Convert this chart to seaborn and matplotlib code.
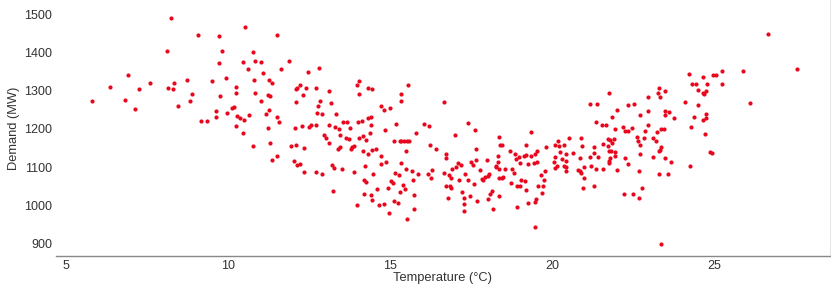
import numpy as np
import pandas as pd
import seaborn as sns
import matplotlib
matplotlib.use('Agg')
import matplotlib.pyplot as plt

# values (temperature in degC, demand in MW)
temp_cool = [5.81, 6.36, 6.92, 6.83, 7.15, 7.26, 7.61, 8.11, 8.26, 8.16, 8.32, 8.33, 8.47, 8.73, 8.84, 8.90, 9.07,
             9.72, 10.52, 11.53, 9.81, 9.74, 10.77, 10.47, 10.85, 11.02, 10.63, 11.08, 9.51, 9.95, 10.24, 10.24,
             10.81, 10.83, 11.27, 11.36, 11.24, 11.30, 9.77, 11.02, 9.62, 9.63, 9.17, 9.37, 9.99, 10.13, 10.18,
             10.28, 10.39, 10.49, 10.64, 10.26, 10.47, 11.17, 11.28, 11.23, 11.52, 11.58, 10.77, 11.31, 11.51,
             11.35, 11.89, 11.63, 12.48, 12.80, 12.09, 12.12, 12.23, 12.41, 12.32, 12.71, 13.11, 12.11, 12.83,
             12.79, 13.17, 12.75, 12.92, 13.35, 12.08, 12.29, 12.50, 12.57, 12.71, 13.13, 13.32, 13.42, 12.96,
             13.02, 13.11, 13.40, 11.94, 12.10, 12.35, 12.03, 12.12, 12.24, 12.35, 12.73, 12.90, 13.22, 13.26,
             13.24]
demand_cool = [1272, 1311, 1341, 1276, 1253, 1304, 1320, 1403, 1490, 1306, 1304, 1320, 1260, 1328, 1273, 1292, 1447,
               1444, 1466, 1447, 1405, 1374, 1401, 1375, 1378, 1375, 1356, 1346, 1326, 1333, 1309, 1295,
               1327, 1294, 1329, 1320, 1290, 1286, 1285, 1274, 1247, 1230, 1222, 1220, 1242, 1254, 1257,
               1235, 1229, 1224, 1237, 1208, 1189, 1239, 1250, 1202, 1231, 1218, 1155, 1162, 1130,
               1118, 1379, 1357, 1348, 1359, 1304, 1308, 1316, 1308, 1289, 1308, 1299, 1270, 1274,
               1260, 1267, 1243, 1238, 1239, 1203, 1208, 1204, 1209, 1211, 1209, 1206, 1200, 1184,
               1176, 1164, 1147, 1155, 1157, 1149, 1115, 1106, 1107, 1088, 1088, 1082, 1106, 1097,
               1038]

temp_mild = [14.06, 13.99, 14.06, 14.33, 14.44, 13.54, 13.68, 13.78, 14.01, 14.13, 14.32, 14.42, 14.41, 14.40,
             14.16, 14.04, 14.27, 13.46, 13.63, 13.73, 15.56, 15.34, 15.34, 14.74, 14.82, 15.01, 15.18, 14.85,
             15.13, 15.30, 15.35, 15.44, 15.52, 15.58, 13.89, 13.84, 13.80, 13.47, 14.18, 14.31, 14.46, 14.56,
             14.73, 15.51, 14.87, 14.74, 15.33, 13.51, 14.23, 13.89, 14.49, 15.15, 15.27, 14.20, 14.27, 15.03,
             15.11, 15.39, 15.47, 14.61, 14.93, 15.31, 14.19, 14.42, 14.46, 15.13, 15.26, 14.81, 14.67, 13.97,
             14.96, 15.53, 15.74, 15.74, 15.71, 15.88, 15.69, 15.51,
             16.67, 16.06, 16.21, 17.42, 17.63, 17.01, 15.81, 16.24, 16.41, 16.73, 16.72, 17.66, 17.65, 17.50,
             17.55, 17.11, 17.19, 17.04, 16.93, 16.30, 17.79, 16.18, 16.27, 16.67, 16.82, 16.87, 17.31, 17.13,
             17.42, 17.60, 17.85, 16.74, 16.86, 16.87, 17.21, 17.27, 17.46, 17.70, 16.80, 17.27, 17.28]
demand_mild = [1326, 1316, 1292, 1308, 1304, 1218, 1217, 1203, 1218, 1222, 1228, 1231, 1209, 1189,
               1182, 1177, 1171, 1184, 1176, 1174, 1315, 1291, 1273, 1259, 1250, 1255, 1212, 1197,
               1168, 1168, 1168, 1167, 1168, 1169, 1156, 1153, 1147, 1153, 1143, 1134, 1145, 1147,
               1129, 1142, 1113, 1107, 1110, 1095, 1102, 1086, 1081, 1084, 1078, 1066, 1062, 1064,
               1059, 1052, 1043, 1043, 1044, 1034, 1029, 1026, 1014, 1011, 1007, 1003, 1000, 1000,
               979, 964, 990, 1026, 1066, 1081, 1090, 1094,
               1270, 1213, 1208, 1216, 1196, 1184, 1188, 1158, 1148, 1135, 1124, 1147, 1118, 1112,
               1106, 1110, 1105, 1101, 1095, 1092, 1091, 1082, 1072, 1085, 1078, 1071, 1081, 1065,
               1066, 1055, 1068, 1050, 1051, 1045, 1035, 1020, 1023, 1011, 1018, 1003, 985]

temp_warm = [18.35, 19.34, 18.41, 18.47, 18.71, 19.21, 19.53, 19.81, 18.32, 18.85, 18.98, 18.89, 19.14, 19.21,
             19.35, 19.49, 19.55, 19.43, 19.26, 19.01, 18.32, 17.99, 18.26, 18.28, 18.35, 18.56, 18.78, 18.84,
             18.07, 18.02, 17.93, 17.87, 18.35, 18.45, 18.48, 19.04, 19.17, 18.73, 18.91, 19.00, 19.65, 19.77,
             19.74, 19.73, 19.58, 19.69, 19.20, 18.14, 18.08, 18.03, 18.35, 19.51, 19.46, 19.26, 18.91, 18.18,
             19.48,
             21.17, 21.38, 22.35, 21.99, 21.86, 21.35, 21.53, 21.66, 21.95, 22.19, 22.26, 22.34, 20.90, 20.53,
             20.20, 20.10, 20.23, 20.37, 20.93, 21.28, 21.56, 21.72, 21.79, 21.90, 21.86, 21.72, 21.77, 21.82,
             21.95, 21.30, 20.26, 20.43, 20.64, 20.08, 20.30, 20.44, 20.86, 21.17, 21.43, 21.79, 21.77, 21.75,
             21.95, 22.24, 22.35, 20.07, 20.16, 20.08, 20.38, 20.44, 20.43, 20.80, 20.86, 20.90, 21.00, 21.19,
             21.35, 21.56, 22.01, 21.00, 20.96, 21.31, 22.22, 21.77]
demand_warm = [1179, 1193, 1158, 1158, 1142, 1159, 1143, 1152, 1130, 1134, 1127, 1120, 1129, 1132,
               1129, 1134, 1114, 1111, 1107, 1110, 1114, 1118, 1103, 1099, 1095, 1094, 1094, 1084,
               1082, 1077, 1075, 1066, 1070, 1071, 1075, 1066, 1064, 1057, 1051, 1050, 1080, 1090,
               1066, 1050, 1050, 1031, 1039, 1038, 1029, 1017, 1023, 1016, 1008, 1005, 996, 989,
               944,
               1265, 1266, 1264, 1249, 1230, 1219, 1209, 1210, 1200, 1205, 1194, 1194, 1176, 1175,
               1167, 1158, 1156, 1157, 1154, 1152, 1160, 1173, 1170, 1173, 1162, 1154, 1143, 1143,
               1140, 1136, 1140, 1134, 1138, 1126, 1120, 1115, 1125, 1126, 1126, 1123, 1116, 1110,
               1129, 1124, 1108, 1113, 1102, 1097, 1103, 1101, 1089, 1091, 1089, 1085, 1101, 1103,
               1095, 1095, 1092, 1070, 1046, 1050, 1029, 1295]

temp_hot = [24.22, 23.29, 23.26, 23.33, 23.50, 22.96, 24.11, 22.53, 22.96, 22.70, 23.48, 23.49, 23.62, 23.77,
            22.46, 22.87, 22.96, 23.24, 23.37, 23.46, 22.65, 22.61, 22.71, 22.84, 23.11, 23.20, 23.37, 23.33,
            23.31, 22.70, 23.12, 23.49, 23.67, 22.67, 23.29, 23.57, 22.77, 22.50, 22.67, 23.36,
            24.31, 24.44, 24.49, 24.66, 24.77, 24.98, 25.06, 25.23, 25.25, 25.90, 26.11, 24.65, 24.70, 24.74,
            24.51, 24.37, 24.74, 24.75, 24.65, 24.30, 24.72, 24.88, 24.92, 24.25, 26.66, 27.56]
demand_hot = [1344, 1306, 1293, 1283, 1300, 1284, 1271, 1266, 1246, 1237, 1246, 1237, 1244, 1229,
              1202, 1195, 1209, 1192, 1199, 1199, 1167, 1178, 1159, 1175, 1177, 1167, 1152, 1145,
              1141, 1134, 1126, 1124, 1114, 1090, 1082, 1082, 1046, 1029, 1020, 898,
              1318, 1318, 1302, 1337, 1319, 1342, 1342, 1351, 1319, 1353, 1267, 1294, 1291, 1300,
              1264, 1230, 1240, 1228, 1224, 1205, 1186, 1140, 1136, 1103, 1449, 1357]

y_ticks = [900, 1000, 1100, 1200, 1300, 1400, 1500]
x_ticks = [5, 10, 15, 20, 25]

df = pd.DataFrame({
    'temperature': temp_cool + temp_mild + temp_warm + temp_hot,
    'demand': demand_cool + demand_mild + demand_warm + demand_hot,
})

sns.set_style('white')
plt.rcParams['font.family'] = ['Liberation Sans', 'DejaVu Sans']

fig = plt.figure(figsize=(8.31, 2.88), dpi=100)
ax = fig.add_axes([0.067, 0.111, 0.932, 0.889])

sns.scatterplot(data=df, x='temperature', y='demand', color='#e8071c', s=9, linewidth=0, ax=ax)

ax.set_xlim(4.69, 28.58)
ax.set_ylim(866.7, 1538)
ax.set_xticks(x_ticks)
ax.set_yticks(y_ticks)
ax.tick_params(length=0, labelsize=9, colors='#333333', pad=2.5)
ax.set_xlabel('Temperature (°C)', fontsize=9.3, color='#333333', labelpad=0)
ax.set_ylabel('Demand (MW)', fontsize=9.3, color='#333333', labelpad=3)

for side in ['left', 'top']:
    ax.spines[side].set_visible(False)
ax.spines['bottom'].set_color('#888888')
ax.spines['bottom'].set_linewidth(1.0)
ax.spines['right'].set_color('#e6e6e6')
ax.spines['right'].set_linewidth(0.8)

fig.savefig('out.png', dpi=100)
